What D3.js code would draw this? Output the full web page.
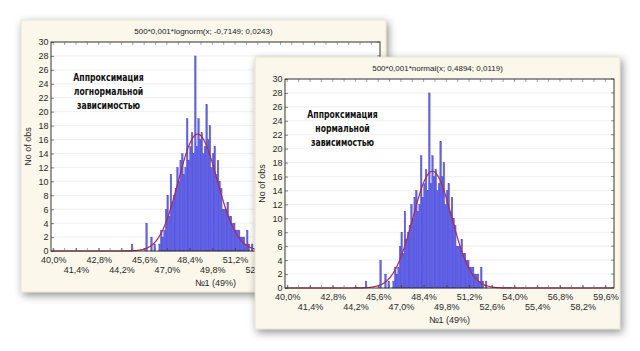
<!DOCTYPE html>
<html><head><meta charset="utf-8">
<script src="https://cdn.jsdelivr.net/npm/d3@7"></script>
<style>
body{margin:0;background:#fff;}
svg{display:block}
</style>
</head><body>
<svg id="chart" width="640" height="351"></svg>
<script>
// ---------- data ----------
const binStarts = [44.8,44.9,45.0,45.1,45.2,45.3,45.4,45.5,45.6,45.7,45.8,45.9,46.0,46.1,46.2,46.3,46.4,46.5,46.6,46.7,46.8,46.9,
  47.0,47.1,47.2,47.3,47.4,47.5,47.6,47.7,47.8,47.9,48.0,48.1,48.2,48.3,48.4,48.5,48.6,48.7,48.8,48.9,
  49.0,49.1,49.2,49.3,49.4,49.5,49.6,49.7,49.8,49.9,50.0,50.1,50.2,50.3,50.4,50.5,50.6,50.7,50.8,50.9,
  51.0,51.1,51.2,51.3,51.4,51.5,51.6,51.7,51.8,51.9,52.0,52.1,52.2];
const counts = [1,0,0,0,0,0,0,0,0,4,0,0,2,0,1,0,0,1,3,2,3,6,
  8,5,11,7,8,9,12,10,13,14,11,12,19,13,15,17,14,28,15,19,
  16,17,14,15,21,16,18,12,14,15,11,13,10,9,6,6,6,7,5,5,
  4,4,3,3,3,2,2,2,1,3,1,0,1];
const binWidth = 0.1;
const xTicks = [40.0,41.4,42.8,44.2,45.6,47.0,48.4,49.8,51.2,52.6,54.0,55.4,56.8,58.2,59.6];
const yTicks = [0,2,4,6,8,10,12,14,16,18,20,22,24,26,28,30];
const fitScale = [500, 0.001];
const normalParams = [0.4894, 0.0119];
const lognormParams = [-0.7149, 0.0243];
const titles = ["500*0,001*lognorm(x; -0,7149; 0,0243)", "500*0,001*normal(x; 0,4894; 0,0119)"];
const notes = [["Аппроксимация","логнормальной","зависимостью"],["Аппроксимация","нормальной","зависимостью"]];
const xTitle = "№1 (49%)";
const yTitle = "No of obs";

// ---------- layout ----------
const W = 365, H = 272;
const plot = {l:30, t:22, r:359, b:231};
const cards = [{x:21, y:20}, {x:255, y:57}];

const svg = d3.select("#chart");
const defs = svg.append("defs");
const f = defs.append("filter").attr("id","sh").attr("x","-10%").attr("y","-10%").attr("width","125%").attr("height","130%");
f.append("feDropShadow").attr("dx",2).attr("dy",3).attr("stdDeviation",4.5)
  .attr("flood-color","#000").attr("flood-opacity",0.45);

const x = d3.scaleLinear().domain([39.86, 60.13]).range([plot.l, plot.r]);
const y = d3.scaleLinear().domain([0, 30]).range([plot.b, plot.t]);
const fmt = d => d.toFixed(1).replace(".", ",") + "%";

function normalPdf(v){ const [m,s]=normalParams; return Math.exp(-0.5*((v-m)/s)**2)/(s*Math.sqrt(2*Math.PI)); }
function lognormPdf(v){ const [m,s]=lognormParams; return Math.exp(-0.5*((Math.log(v)-m)/s)**2)/(v*s*Math.sqrt(2*Math.PI)); }

const FONT = "'Liberation Sans', Arial, sans-serif";

function drawPanel(i, pdf, visibleRight){
  const c = cards[i];
  const g = svg.append("g").attr("transform", `translate(${c.x},${c.y})`);
  g.append("rect").attr("width", W).attr("height", H).attr("fill", "#fbf7ea")
    .attr("stroke", "#d9d4c2").attr("stroke-width", 0.6).attr("filter", "url(#sh)");
  g.append("rect").attr("x", plot.l).attr("y", plot.t).attr("width", plot.r-plot.l).attr("height", plot.b-plot.t)
    .attr("fill", "#fff");
  // grid
  g.append("g").selectAll("line").data(yTicks.slice(1)).join("line")
    .attr("x1", plot.l).attr("x2", plot.r).attr("y1", d=>y(d)).attr("y2", d=>y(d))
    .attr("stroke", "#ececec").attr("stroke-width", 0.8);
  // bars
  g.append("g").selectAll("rect").data(counts.map((c,k)=>({s:binStarts[k], c}))).join("rect")
    .attr("x", d=>x(d.s)).attr("width", d=>x(d.s+binWidth)-x(d.s))
    .attr("y", d=>y(d.c)).attr("height", d=>y(0)-y(d.c))
    .attr("fill", "#6060ee").attr("stroke", "#4848c8").attr("stroke-width", 0.35);
  // fitted curve
  const pts = d3.range(39.86, 60.13, 0.04).map(p => [p, fitScale[0]*fitScale[1]*pdf(p/100)]);
  g.append("path").datum(pts)
    .attr("d", d3.line().x(d=>x(d[0])).y(d=>y(d[1])).curve(d3.curveMonotoneX))
    .attr("fill", "none").attr("stroke", "#b0284e").attr("stroke-width", 1.2);
  // frame
  g.append("rect").attr("x", plot.l).attr("y", plot.t).attr("width", plot.r-plot.l).attr("height", plot.b-plot.t)
    .attr("fill", "none").attr("stroke", "#222").attr("stroke-width", 0.9);
  // minor inward ticks top/bottom
  const minor = d3.range(0, 29).map(k => 40 + k*0.7).filter(v => v <= 60);
  g.append("g").selectAll("line").data(minor).join("line")
    .attr("x1", d=>x(d)).attr("x2", d=>x(d)).attr("y1", plot.t).attr("y2", plot.t+3)
    .attr("stroke", "#666").attr("stroke-width", 0.6);
  g.append("g").selectAll("line").data(minor).join("line")
    .attr("x1", d=>x(d)).attr("x2", d=>x(d)).attr("y1", plot.b).attr("y2", plot.b-3)
    .attr("stroke", "#666").attr("stroke-width", 0.6);
  g.append("g").selectAll("line").data(yTicks).join("line")
    .attr("x1", plot.r).attr("x2", plot.r-3).attr("y1", d=>y(d)).attr("y2", d=>y(d))
    .attr("stroke", "#444").attr("stroke-width", 0.6);
  // axes
  const ya = g.append("g").attr("transform", `translate(${plot.l},0)`)
    .call(d3.axisLeft(y).tickValues(yTicks).tickFormat(d3.format("d")).tickSizeInner(-3).tickSizeOuter(0).tickPadding(2.5));
  ya.select(".domain").remove();
  ya.selectAll("line").attr("stroke", "#333").attr("stroke-width", 0.6);
  ya.selectAll("text").attr("font-family", FONT).attr("font-size", 9).attr("fill", "#2a2a2a");
  const xa = g.append("g").attr("transform", `translate(0,${plot.b})`)
    .call(d3.axisBottom(x).tickValues(xTicks).tickFormat(fmt).tickSizeInner(-3).tickSizeOuter(0).tickPadding(4));
  xa.select(".domain").remove();
  xa.selectAll("line").attr("stroke", "#333").attr("stroke-width", 0.6);
  xa.selectAll("text").attr("font-family", FONT).attr("font-size", 9).attr("fill", "#2a2a2a")
    .attr("y", (d,k) => k % 2 === 0 ? 5.5 : 15.5);
  // labels hidden under the front card are not drawn
  xa.selectAll(".tick").filter(d => c.x + x(d) - 10 > visibleRight).select("text").remove();
  // titles
  g.append("text").attr("x", W/2).attr("y", 14).attr("text-anchor", "middle")
    .attr("font-family", FONT).attr("font-size", 8).attr("fill", "#222").text(titles[i]);
  g.append("text").attr("x", (plot.l+plot.r)/2).attr("y", 266).attr("text-anchor", "middle")
    .attr("font-family", FONT).attr("font-size", 9).attr("fill", "#2a2a2a").text(xTitle);
  g.append("text").attr("transform", `translate(10,${(plot.t+plot.b)/2}) rotate(-90)`).attr("text-anchor", "middle")
    .attr("font-family", FONT).attr("font-size", 9).attr("fill", "#2a2a2a").text(yTitle);
  // annotation (condensed bold)
  const tn = g.append("g").attr("transform", "translate(87.5,0) scale(0.86,1)")
    .append("text").attr("text-anchor", "middle")
    .attr("font-family", "'DejaVu Sans Condensed', 'Liberation Sans', Arial, sans-serif")
    .attr("font-weight", "bold").attr("font-size", 10).attr("fill", "#111");
  notes[i].forEach((t, k) => tn.append("tspan").attr("x", 0).attr("y", 61 + k*14).text(t));
}

drawPanel(0, lognormPdf, cards[1].x);
drawPanel(1, normalPdf, 640);
</script>
</body></html>
